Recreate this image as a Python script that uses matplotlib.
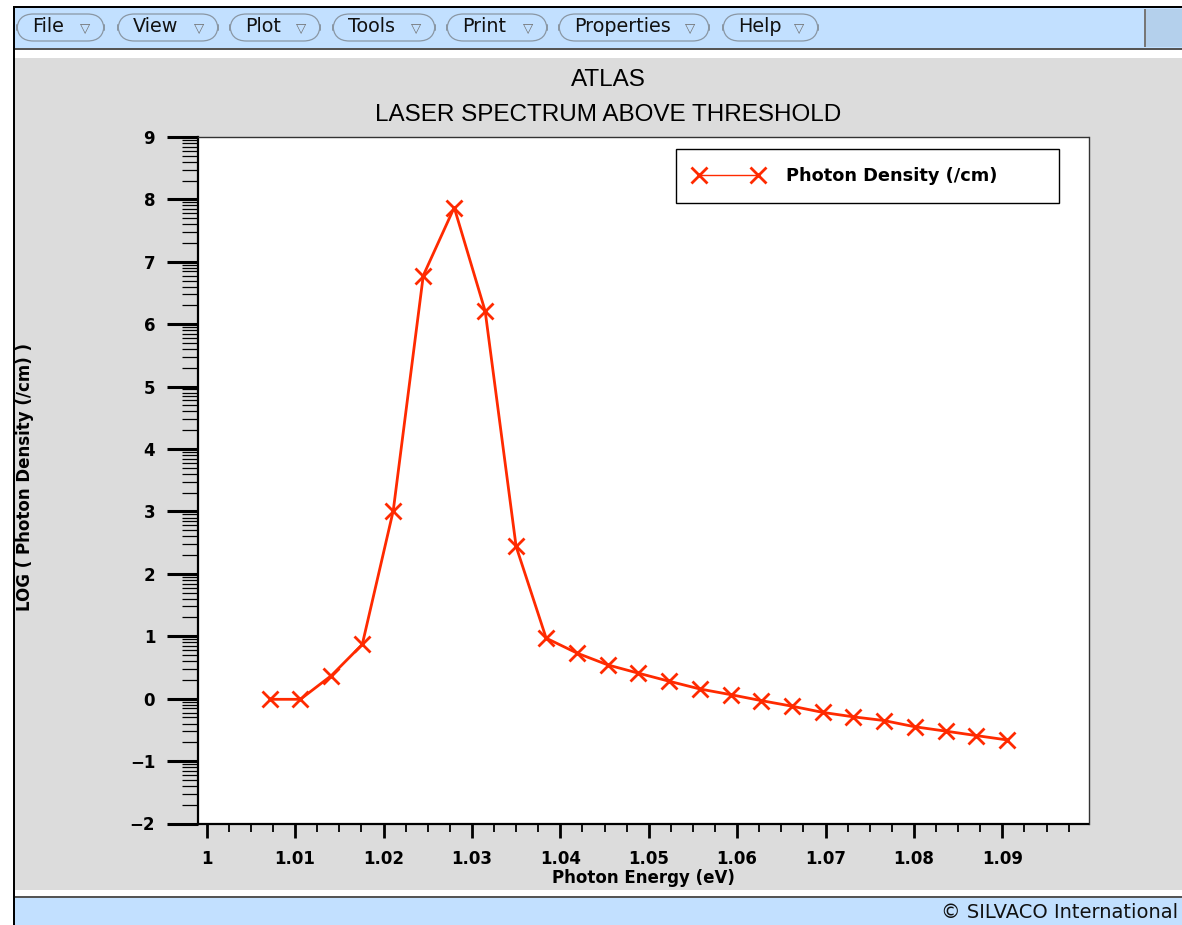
"""
Reproduction d'une capture TonyPlot (ATLAS) : spectre laser au-dessus du seuil.
"""

import numpy as np
import matplotlib
matplotlib.use("Agg")
import matplotlib.pyplot as plt
from matplotlib.patches import Rectangle, FancyBboxPatch
from matplotlib.ticker import FixedLocator, FuncFormatter

energie_ev = [1.0072, 1.0106, 1.0141, 1.0176, 1.0211, 1.0245, 1.0280, 1.0315,
              1.0350, 1.0384, 1.0419, 1.0454, 1.0488, 1.0523, 1.0558, 1.0593,
              1.0627, 1.0662, 1.0697, 1.0731, 1.0766, 1.0801, 1.0836, 1.0870,
              1.0905]
log_densite = [-0.01, -0.01, 0.37, 0.87, 3.01, 6.78, 7.87, 6.21,
               2.44, 0.97, 0.73, 0.54, 0.41, 0.28, 0.155, 0.064,
               -0.03, -0.12, -0.22, -0.29, -0.35, -0.45, -0.52, -0.59,
               -0.66]
x_ticks = [1.00, 1.01, 1.02, 1.03, 1.04, 1.05, 1.06, 1.07, 1.08, 1.09]
y_ticks = [-2, -1, 0, 1, 2, 3, 4, 5, 6, 7, 8, 9]
menus = ["File", "View", "Plot", "Tools", "Print", "Properties", "Help"]

W, H = 1182, 925
ROUGE = "#ff2a00"
GRIS = "#dcdcdc"
BLEU = "#c2e0ff"


def px(x, y):
    # pixels (origine en haut à gauche) -> coordonnées figure
    return x / W, 1 - y / H


def rect(fig, x0, y0, x1, y1, color, z=0):
    fx, fy = px(x0, y1)
    fig.add_artist(Rectangle((fx, fy), (x1 - x0) / W, (y1 - y0) / H,
                             transform=fig.transFigure, facecolor=color,
                             edgecolor="none", zorder=z))


fig = plt.figure(figsize=(W / 100, H / 100), dpi=100, facecolor="white")

# Cadre de la fenêtre
rect(fig, 15, 8, W, 48, BLEU)
rect(fig, 15, 48, W, 50, "#555555")
rect(fig, 15, 58, W, 890, GRIS)
rect(fig, 15, 896, W, 898, "#555555")
rect(fig, 15, 898, W, H, BLEU)
rect(fig, 1145, 9, W, 47, "#b4d0ec")
rect(fig, 1144, 9, 1146, 47, "#777777")
rect(fig, 13, 6, W, 8, "black")
rect(fig, 13, 6, 15, H, "black")

# Boutons de menu
bornes = [(17, 104), (118, 218), (230, 320), (333, 435), (447, 547),
          (559, 709), (723, 818)]
for nom, (b0, b1) in zip(menus, bornes):
    fx0, fy0 = px(b0, 41)
    fx1, fy1 = px(b1, 14)
    fig.add_artist(FancyBboxPatch((fx0, fy0), fx1 - fx0, fy1 - fy0,
                                  boxstyle="round,pad=0,rounding_size=0.014",
                                  mutation_aspect=W / H,
                                  transform=fig.transFigure, facecolor=BLEU,
                                  edgecolor="#8a97a4", linewidth=0.9))
    tx, ty = px(b0 + 15, 27)
    fig.text(tx, ty, nom, fontsize=13.8, family="DejaVu Sans", va="center",
             ha="left", color="#111111")
    tx, ty = px(b1 - 19, 28)
    fig.text(tx, ty, "\u25bd", fontsize=9.5, family="DejaVu Sans",
             va="center", ha="center", color="#6f6f6f")

fig.text(*px(1178, 913), "\u00a9 SILVACO International", fontsize=14,
         family="DejaVu Sans", va="center", ha="right", color="#111111")

# Titres
fig.text(*px(608, 80), "ATLAS", fontsize=17.5, family="Liberation Sans",
         ha="center", va="center")
fig.text(*px(608, 115), "LASER SPECTRUM ABOVE THRESHOLD", fontsize=17.5,
         family="Liberation Sans", ha="center", va="center")

# Zone de tracé
x0, y0 = px(198.3, 823.5)
x1, y1 = px(1088.5, 137)
ax = fig.add_axes([x0, y0, x1 - x0, y1 - y0])
ax.set_facecolor("white")
ax.plot(energie_ev, log_densite, color=ROUGE, lw=2.0, marker="x",
        markersize=12, markeredgewidth=2.0, label="Photon Density (/cm)",
        clip_on=False)
ax.set_xlim(0.99905, 1.09975)
ax.set_ylim(-2, 9)

police = dict(family="DejaVu Sans", weight="bold", size=12)
ax.xaxis.set_major_locator(FixedLocator(x_ticks))
ax.xaxis.set_minor_locator(FixedLocator(
    [1.0 + 0.0025 * i for i in range(40) if i % 4]))
ax.xaxis.set_major_formatter(FuncFormatter(lambda v, p: "%g" % round(v, 2)))
ax.yaxis.set_major_locator(FixedLocator(y_ticks))
ax.yaxis.set_minor_locator(FixedLocator(
    [n + np.log10(k) for n in range(-2, 9) for k in range(2, 10)]))
ax.yaxis.set_major_formatter(
    FuncFormatter(lambda v, p: ("%d" % v).replace("-", "\u2212")))

ax.tick_params(axis="x", which="major", direction="out", length=10,
               width=2.0, pad=9, color="black")
ax.tick_params(axis="x", which="minor", direction="out", length=6,
               width=1.3, color="black")
ax.tick_params(axis="y", which="major", direction="out", length=22,
               width=2.2, pad=9, color="black")
ax.tick_params(axis="y", which="minor", direction="out", length=11.5,
               width=0.9, color="black")
for lab in ax.get_xticklabels() + ax.get_yticklabels():
    lab.set_fontproperties(police)

for cote in ("left", "bottom"):
    ax.spines[cote].set_linewidth(1.6)
for cote in ("top", "right"):
    ax.spines[cote].set_linewidth(1.0)
    ax.spines[cote].set_color("#333333")

ax.set_xlabel("Photon Energy (eV)", fontdict=police, labelpad=0)
ax.xaxis.set_label_coords(0.5, -0.067)
fig.text(*px(25, 477), "LOG ( Photon Density (/cm) )", rotation=90,
         ha="center", va="center", **police)

police_leg = dict(police, size=12.8)
leg = ax.legend(loc="upper left", bbox_to_anchor=(676 / W, 1 - 150 / H, 383 / W, 0.001),
                bbox_transform=fig.transFigure, mode="expand", numpoints=2,
                handlelength=3.9, handletextpad=1.3, borderpad=1.0,
                borderaxespad=0, fancybox=False, framealpha=1,
                edgecolor="black", prop=police_leg)
leg.get_frame().set_linewidth(1.0)
for ligne in leg.get_lines():
    ligne.set_linewidth(1.0)

plt.savefig("out.png", dpi=100, facecolor=fig.get_facecolor())
